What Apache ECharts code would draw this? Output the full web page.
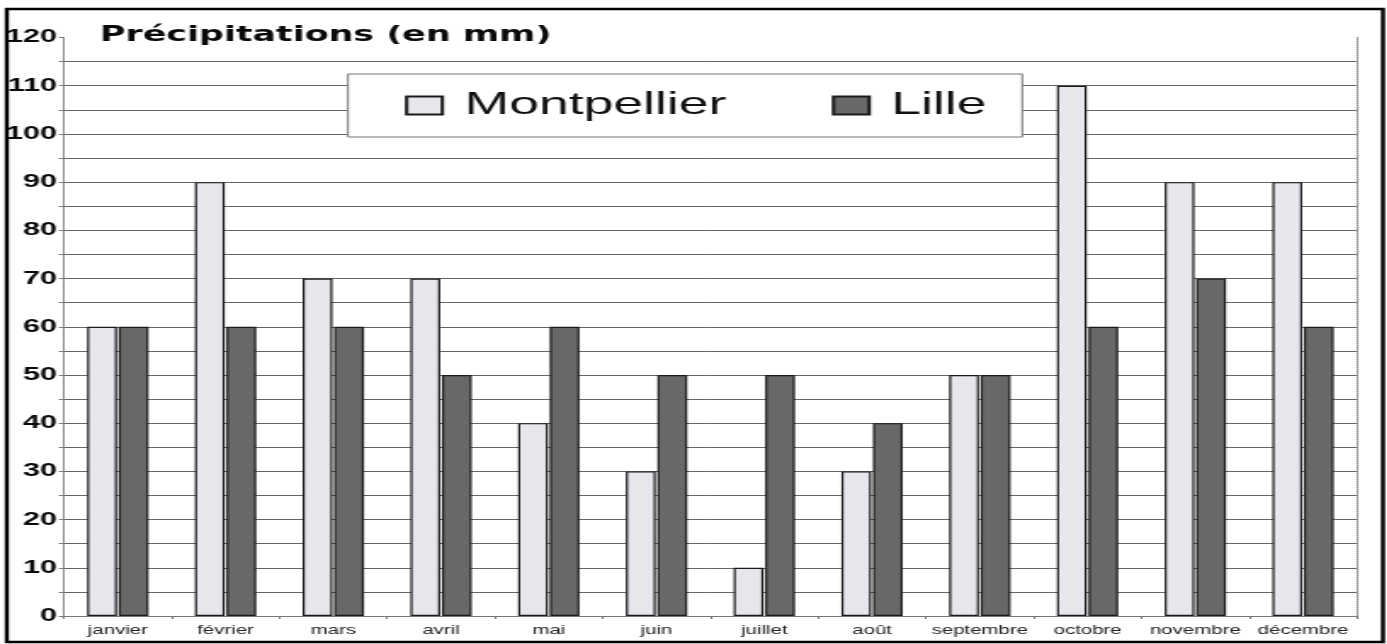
<!DOCTYPE html>
<html>
<head>
<meta charset="utf-8">
<script src="https://cdn.jsdelivr.net/npm/echarts@6/dist/echarts.min.js"></script>
<style>
  html, body { margin: 0; padding: 0; background: #fff; overflow: hidden; }
  #wrap { width: 1387px; height: 644px; position: relative; overflow: hidden; }
  #chart { width: 816px; height: 644px; transform: scaleX(1.7); transform-origin: 0 0; position: absolute; left: 0; top: 0; }
</style>
</head>
<body>
<div id="wrap"><div id="chart"></div></div>
<script>
const categories = ['janvier', 'février', 'mars', 'avril', 'mai', 'juin', 'juillet', 'août', 'septembre', 'octobre', 'novembre', 'décembre'];
const montpellier = [60, 90, 70, 70, 40, 30, 10, 30, 50, 110, 90, 90];
const lille = [60, 60, 60, 50, 60, 50, 50, 40, 50, 60, 70, 60];
const yMin = 0;
const yMax = 120;
const yStep = 5;
const yLabelStep = 10;
const titleText = 'Précipitations (en mm)';

const chart = echarts.init(document.getElementById('chart'), null, { renderer: 'canvas' });
const barBorder = { borderColor: '#1a1a1a', borderWidth: 1.2 };

chart.setOption({
  animation: false,
  backgroundColor: '#ffffff',
  title: {
    text: titleText,
    left: 58.8,
    top: 25,
    padding: 0,
    textStyle: { fontFamily: 'DejaVu Sans', fontWeight: 'bold', fontSize: 20.5, color: '#0a0a0a' }
  },
  legend: {
    data: ['Montpellier', 'Lille'],
    left: 204.7,
    top: 74,
    orient: 'horizontal',
    padding: [15.5, 21, 15.5, 33.5],
    itemGap: 62,
    itemWidth: 21,
    itemHeight: 18,
    icon: 'rect',
    backgroundColor: '#ffffff',
    borderColor: '#777',
    borderWidth: 1,
    borderRadius: 0,
    selectedMode: false,
    textStyle: { fontFamily: 'Liberation Sans', fontSize: 31.5, lineHeight: 31, color: '#111', padding: [0, 0, 0, 8] }
  },
  grid: { left: 37.6, right: 17.8, top: 37.5, bottom: 28, containLabel: false },
  xAxis: [
    {
      type: 'category',
      data: categories,
      position: 'bottom',
      axisLine: { lineStyle: { color: '#888', width: 1 } },
      axisTick: { show: true, length: 3, lineStyle: { color: '#777' } },
      axisLabel: { fontFamily: 'Liberation Sans', fontSize: 12, color: '#222', margin: 9, interval: 0 },
      splitLine: { show: false }
    },
    {
      type: 'category',
      data: categories,
      position: 'top',
      axisLine: { show: true, lineStyle: { color: '#777', type: 'dotted', width: 1 } },
      axisTick: { show: false },
      axisLabel: { show: false },
      splitLine: { show: false }
    }
  ],
  yAxis: [
    {
      type: 'value',
      min: yMin,
      max: yMax,
      interval: yStep,
      position: 'left',
      axisLine: { show: true, lineStyle: { color: '#888', width: 1 } },
      axisTick: { show: true, length: 3, lineStyle: { color: '#777' } },
      axisLabel: {
        fontFamily: 'Liberation Sans', fontWeight: 'bold', fontSize: 18, color: '#0a0a0a', margin: 4,
        formatter: v => (v % yLabelStep === 0 ? String(v) : '')
      },
      splitLine: { show: true, showMinLine: false, showMaxLine: false, lineStyle: { color: '#666', width: 1 } }
    },
    {
      type: 'value',
      min: yMin,
      max: yMax,
      interval: yStep,
      position: 'right',
      axisLine: { show: true, lineStyle: { color: '#888', type: 'dotted', width: 1 } },
      axisTick: { show: false },
      axisLabel: { show: false },
      splitLine: { show: false }
    }
  ],
  series: [
    {
      name: 'Montpellier',
      type: 'bar',
      xAxisIndex: 0,
      yAxisIndex: 0,
      data: montpellier,
      barWidth: 17.5,
      barGap: '6%',
      itemStyle: Object.assign({ color: '#e6e6ec' }, barBorder)
    },
    {
      name: 'Lille',
      type: 'bar',
      xAxisIndex: 0,
      yAxisIndex: 0,
      data: lille,
      barWidth: 17.5,
      barGap: '6%',
      itemStyle: Object.assign({ color: '#686868' }, barBorder)
    }
  ],
  graphic: [
    {
      type: 'rect',
      silent: true,
      z: 100,
      shape: { x: 4, y: 9, width: 809.5, height: 633 },
      style: { fill: 'none', stroke: '#000', lineWidth: 2.4 }
    }
  ]
});
</script>
</body>
</html>
